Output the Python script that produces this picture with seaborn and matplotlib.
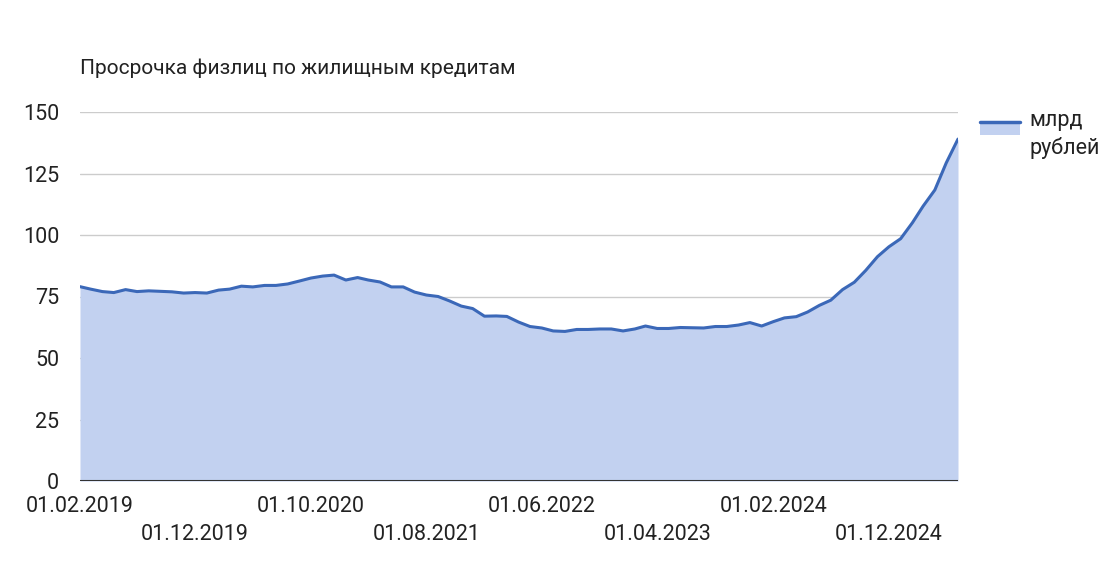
import pandas as pd
import matplotlib.pyplot as plt
import seaborn as sns
from matplotlib.lines import Line2D
from matplotlib.patches import Patch, Rectangle
from matplotlib.legend_handler import HandlerBase

# Monthly values, 01.02.2019 .. 01.06.2025 (bn rubles)
start_month = "2019-02-01"
overdue_bn = [
    79.0, 78.0, 77.0, 76.6, 77.8, 77.0, 77.3, 77.1, 76.9, 76.4,
    76.6, 76.4, 77.6, 78.0, 79.2, 78.9, 79.5, 79.5, 80.1, 81.3,
    82.5, 83.3, 83.7, 81.7, 82.7, 81.7, 80.9, 78.9, 78.9, 76.8,
    75.6, 75.0, 73.2, 71.1, 70.1, 67.0, 67.1, 66.9, 64.6, 62.8,
    62.2, 61.0, 60.8, 61.6, 61.6, 61.8, 61.8, 61.0, 61.8, 63.0,
    62.0, 62.0, 62.4, 62.3, 62.2, 62.8, 62.8, 63.4, 64.4, 63.0,
    64.8, 66.3, 66.8, 68.7, 71.4, 73.5, 77.8, 80.8, 85.6, 91.2,
    95.2, 98.5, 105.0, 111.7, 118.3, 129.3, 139.0,
]
tick_labels = ["01.02.2019", "01.12.2019", "01.10.2020", "01.08.2021",
               "01.06.2022", "01.04.2023", "01.02.2024", "01.12.2024"]
y_ticks = [0, 25, 50, 75, 100, 125, 150]
title = "Просрочка физлиц по жилищным кредитам"
series_name = "млрд\nрублей"

df = pd.DataFrame({
    "date": pd.date_range(start_month, periods=len(overdue_bn), freq="MS"),
    "value": overdue_bn,
})

line_color = "#3b68b8"
fill_color = "#c2d1f0"
text_color = "#222222"


class AreaHandler(HandlerBase):
    # line on top, light area underneath, aligned with the first text line
    def create_artists(self, legend, orig_handle, xdescent, ydescent,
                       width, height, fontsize, trans):
        y_top = height / 2 + fontsize * 0.62
        rect = Rectangle((-xdescent, y_top - fontsize * 0.62), width, fontsize * 0.62,
                         facecolor=fill_color, edgecolor="none", transform=trans)
        line = Line2D([-xdescent, -xdescent + width], [y_top, y_top],
                      color=line_color, linewidth=2.5, transform=trans)
        return [rect, line]


sns.set_style("white")
plt.rcParams["font.family"] = ["Roboto", "DejaVu Sans"]

fig = plt.figure(figsize=(11.16, 5.84), dpi=100)
ax = fig.add_axes([80 / 1116, 1 - 481 / 584, (958 - 80) / 1116, (481 - 112) / 584])

ax.fill_between(df["date"], df["value"], 0, color=fill_color, linewidth=0, zorder=1)
sns.lineplot(data=df, x="date", y="value", color=line_color, linewidth=2.2, ax=ax, zorder=3)

ax.set_xlim(df["date"].iloc[0], df["date"].iloc[-1])
ax.set_ylim(0, 150)
ax.set_yticks(y_ticks)
ax.yaxis.grid(True, color="#cccccc", linewidth=1)
ax.axhline(0, color="#333333", linewidth=1.5, zorder=4)
ax.set_axisbelow(True)

tick_dates = pd.to_datetime(tick_labels, format="%d.%m.%Y")
ax.set_xticks(tick_dates)
ax.set_xticklabels([t if i % 2 == 0 else "\n" + t for i, t in enumerate(tick_labels)],
                   fontsize=15.5, color=text_color, linespacing=1.45)
ax.tick_params(axis="x", length=0, pad=11)
ax.tick_params(axis="y", length=0, pad=15, labelsize=15.5, labelcolor=text_color)
for lbl in ax.get_yticklabels():
    lbl.set_horizontalalignment("right")

ax.set_xlabel("")
ax.set_ylabel("")
sns.despine(ax=ax, left=True, bottom=True, top=True, right=True)

fig.text(80 / 1116, 1 - 68 / 584, title, fontsize=15, color=text_color, va="center")

leg = fig.legend([Patch()], [series_name], handler_map={Patch: AreaHandler()},
                 loc="upper left", bbox_to_anchor=(980 / 1116, 1 - 110 / 584),
                 frameon=False, fontsize=15.5, handlelength=1.85, handletextpad=0.45,
                 borderaxespad=0, borderpad=0, labelspacing=0.2)
for t in leg.get_texts():
    t.set_color(text_color)
    t.set_linespacing(1.35)

fig.savefig("out.png", dpi=100)
